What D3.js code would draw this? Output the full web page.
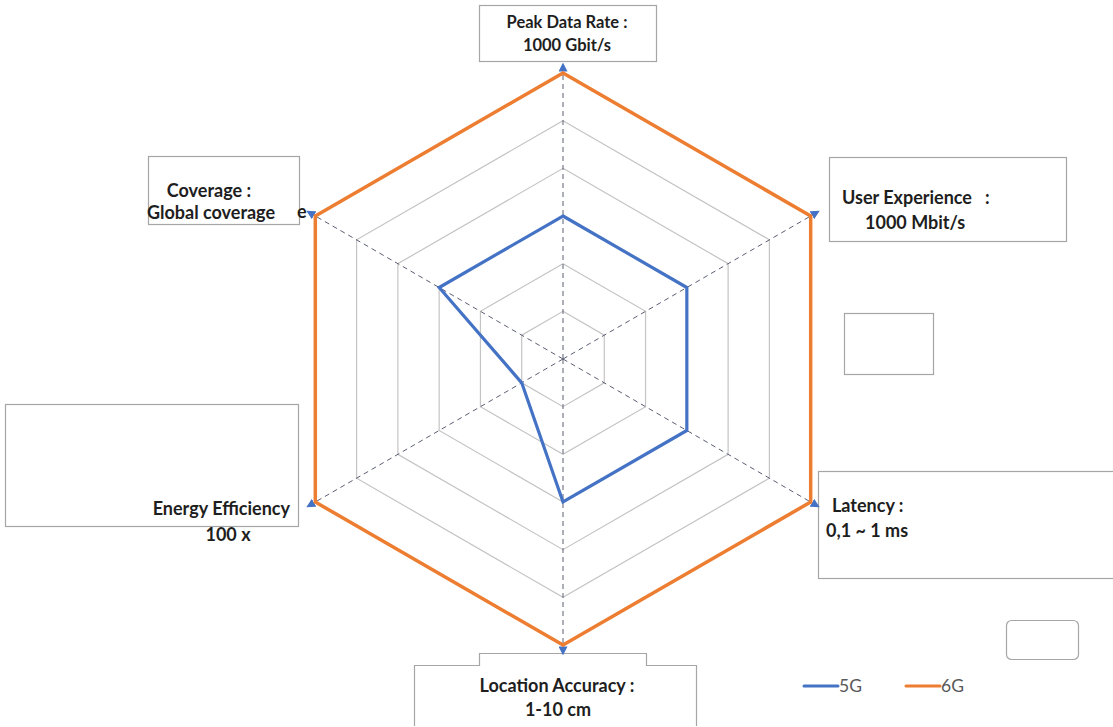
<!DOCTYPE html>
<html><head><meta charset="utf-8">
<script src="https://cdn.jsdelivr.net/npm/d3@7"></script>
<style>
html,body{margin:0;padding:0;background:#fff;}
svg{display:block;}
text{font-family:Lato,"Open Sans",sans-serif;white-space:pre;}
</style></head>
<body>
<svg id="chart" width="1113" height="727"></svg>
<script>
// ---- data ----
const axes = ["Peak Data Rate", "User Experience", "Latency", "Location Accuracy", "Energy Efficiency", "Coverage"];
const series5G = [3, 3, 3, 3, 1, 3];
const series6G = [6, 6, 6, 6, 6, 6];
const levels = [1, 2, 3, 4, 5];
const seriesNames = ["5G", "6G"];
const labelLines = [
  ["Peak Data Rate :", "1000 Gbit/s"],
  ["User Experience   :", "1000 Mbit/s"],
  ["Latency :", "0,1 ~ 1 ms"],
  ["Location Accuracy :", "1-10 cm"],
  ["Energy Efficiency", "100 x"],
  ["Coverage :", "Global coverage"]
];

// ---- layout ----
const svg = d3.select("#chart");
const cx = 563, cy = 359, R = 286;
const r = d3.scaleLinear().domain([0, 6]).range([0, R]);
const ang = d3.scaleLinear().domain([0, axes.length]).range([0, 2 * Math.PI]);
const colors = {"5G": "#4472c4", "6G": "#ed7d31"};
const pt = (i, v) => [cx + r(v) * Math.sin(ang(i)), cy - r(v) * Math.cos(ang(i))];

// boxes (decorative label boxes)
const boxStroke = "#a6a6a6";
function rect(x, y, w, h, rx) {
  svg.append("rect").attr("x", x).attr("y", y).attr("width", w).attr("height", h)
    .attr("rx", rx || 0).attr("fill", "#fff").attr("stroke", boxStroke).attr("stroke-width", 1.2);
}
rect(479.5, 5.5, 177, 56);
rect(829.5, 157.5, 237, 84);
rect(844.5, 313.5, 89, 61);
rect(818.5, 471.5, 300, 107);
rect(1006.5, 620.5, 72, 39, 5);
rect(148.5, 156.5, 151, 68);
rect(5.5, 404.5, 293, 122);
svg.append("path")
  .attr("d", "M414.5,726 L414.5,665.5 L479.5,665.5 L479.5,653.5 L646.5,653.5 L646.5,665.5 L696.5,665.5 L696.5,726")
  .attr("fill", "#fff").attr("stroke", boxStroke).attr("stroke-width", 1.2);

// grid hexagons
const line = d3.line();
svg.append("g").selectAll("path").data(levels).join("path")
  .attr("d", l => line(axes.map((a, i) => pt(i, l))) + "Z")
  .attr("fill", "none").attr("stroke", "#c4c4c4").attr("stroke-width", 1.2);

// spokes with arrowheads
svg.append("defs").append("marker")
  .attr("id", "arr").attr("viewBox", "0 0 10 10").attr("refX", 9).attr("refY", 5)
  .attr("markerWidth", 9).attr("markerHeight", 9).attr("markerUnits", "userSpaceOnUse")
  .attr("orient", "auto")
  .append("path").attr("d", "M0,0 L10,5 L0,10 Z").attr("fill", "#4472c4");
svg.append("g").selectAll("line").data(axes).join("line")
  .attr("x1", cx).attr("y1", cy)
  .attr("x2", (d, i) => pt(i, 6.2)[0]).attr("y2", (d, i) => pt(i, 6.2)[1])
  .attr("stroke", "#5a5f73").attr("stroke-width", 1).attr("stroke-dasharray", "5,4")
  .attr("marker-end", "url(#arr)");

// series
const seriesData = [series5G, series6G];
svg.append("g").selectAll("path").data(seriesData.slice().reverse()).join("path")
  .attr("d", s => line(s.map((v, i) => pt(i, v))) + "Z")
  .attr("fill", "none")
  .attr("stroke", (s, k) => colors[seriesNames[1 - k]])
  .attr("stroke-width", (s, k) => k === 0 ? 3.5 : 3.2)
  .attr("stroke-linejoin", "miter");

// labels
const labelPos = [
  {x: 567, y: 28, anchor: "middle", x2: 567, y2: 51, anchor2: "middle", fs: 16.5},
  {x: 842, y: 204, anchor: "start", x2: 865, y2: 229, anchor2: "start", fs: 18},
  {x: 832, y: 512, anchor: "start", x2: 826, y2: 537, anchor2: "start", fs: 18},
  {x: 557, y: 692, anchor: "middle", x2: 558, y2: 716, anchor2: "middle", fs: 18},
  {x: 290, y: 515, anchor: "end", x2: 228, y2: 541, anchor2: "middle", fs: 18},
  {x: 209, y: 197, anchor: "middle", x2: 211, y2: 219, anchor2: "middle", fs: 18}
];
const tg = svg.append("g").attr("font-weight", 700).attr("fill", "#1e1e1e");
labelLines.forEach((lines, i) => {
  const p = labelPos[i];
  tg.append("text").attr("x", p.x).attr("y", p.y).attr("font-size", p.fs).attr("text-anchor", p.anchor).text(lines[0]);
  tg.append("text").attr("x", p.x2).attr("y", p.y2).attr("font-size", p.fs).attr("text-anchor", p.anchor2).text(lines[1]);
});
// stray glyph visible beside coverage box
tg.append("text").attr("x", 297).attr("y", 218).attr("font-size", 18).text("e");

// legend
const lg = svg.append("g");
seriesNames.forEach((n, k) => {
  const x0 = 804 + k * 102;
  lg.append("line").attr("x1", x0).attr("x2", x0 + 34).attr("y1", 686).attr("y2", 686)
    .attr("stroke", colors[n]).attr("stroke-width", 3).attr("stroke-linecap", "round");
  lg.append("text").attr("x", x0 + 35).attr("y", 692).attr("font-size", 17.5).attr("fill", "#595959").text(n);
});
</script>
</body></html>
